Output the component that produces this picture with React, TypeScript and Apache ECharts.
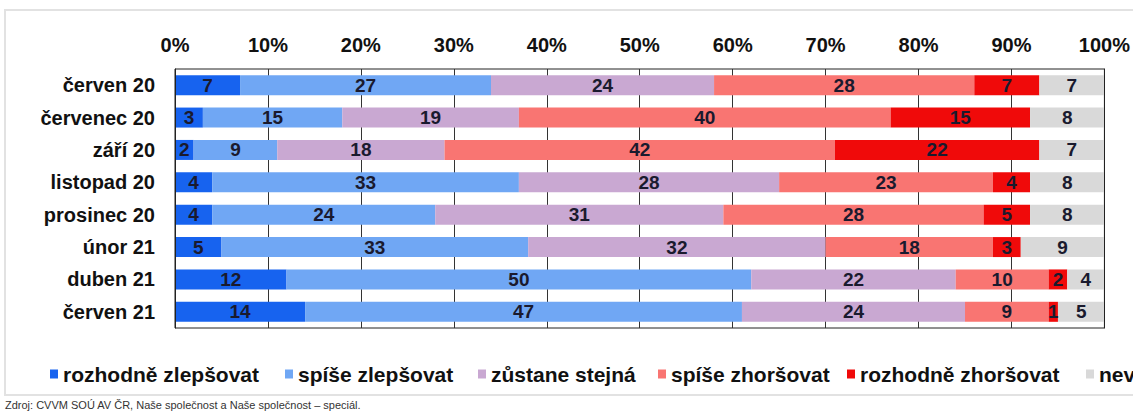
import React, { useEffect, useRef } from "react";
import * as echarts from "echarts";

const categories = [
  "červen 20",
  "červenec 20",
  "září 20",
  "listopad 20",
  "prosinec 20",
  "únor 21",
  "duben 21",
  "červen 21",
];

const seriesNames = [
  "rozhodně zlepšovat",
  "spíše zlepšovat",
  "zůstane stejná",
  "spíše zhoršovat",
  "rozhodně zhoršovat",
  "neví",
];

const rozhodneZlepsovat = [7, 3, 2, 4, 4, 5, 12, 14];
const spiseZlepsovat = [27, 15, 9, 33, 24, 33, 50, 47];
const zustaneStejna = [24, 19, 18, 28, 31, 32, 22, 24];
const spiseZhorsovat = [28, 40, 42, 23, 28, 18, 10, 9];
const rozhodneZhorsovat = [7, 15, 22, 4, 5, 3, 2, 1];
const nevi = [7, 8, 7, 8, 8, 9, 4, 5];

const seriesValues = [
  rozhodneZlepsovat,
  spiseZlepsovat,
  zustaneStejna,
  spiseZhorsovat,
  rozhodneZhorsovat,
  nevi,
];

const colors = ["#1763ef", "#70a7f4", "#c9a8d2", "#f97572", "#f00a0a", "#d9d9d9"];
const legendLefts = [45, 280, 473, 653, 842, 1081];

const FONT = "'Liberation Sans', Arial, sans-serif";

export default function App() {
  const ref = useRef<HTMLDivElement>(null);

  useEffect(() => {
    if (!ref.current) return;
    const chart = echarts.init(ref.current, null, { renderer: "svg" });
    const option: any = {
      animation: false,
      backgroundColor: "#ffffff",
      textStyle: { fontFamily: FONT },
      grid: {
        left: 175,
        right: 28,
        top: 69,
        bottom: 84,
        show: true,
        borderColor: "#222",
        borderWidth: 1,
        backgroundColor: "transparent",
      },
      legend: seriesNames.map((n, i) => ({
        data: [n],
        left: legendLefts[i],
        top: 357,
        itemWidth: 8,
        itemHeight: 9,
        icon: "rect",
        selectedMode: false,
        textStyle: {
          fontFamily: FONT,
          fontSize: 21,
          fontWeight: "bold",
          color: "#111",
          lineHeight: 24,
        },
      })),
      xAxis: {
        type: "value",
        position: "top",
        min: 0,
        max: 100,
        interval: 10,
        axisLine: { show: false },
        axisTick: { show: false },
        splitLine: { show: true, lineStyle: { color: "#333", width: 1 } },
        axisLabel: {
          formatter: "{value}%",
          fontFamily: FONT,
          fontSize: 20,
          fontWeight: "bold",
          color: "#111",
          margin: 14,
        },
      },
      yAxis: [
        {
          type: "category",
          data: categories,
          inverse: true,
          z: 5,
          axisLine: { show: true, lineStyle: { color: "#222", width: 1 } },
          axisTick: { show: false },
          axisLabel: {
            fontFamily: FONT,
            fontSize: 20,
            fontWeight: "bold",
            color: "#111",
            margin: 20,
          },
        },
        {
          type: "category",
          data: categories,
          inverse: true,
          position: "right",
          z: 5,
          axisLine: { show: true, lineStyle: { color: "#222", width: 1 } },
          axisTick: { show: false },
          axisLabel: { show: false },
        },
      ],
      series: seriesNames.map((n, i) => ({
        name: n,
        type: "bar",
        stack: "total",
        barWidth: 20,
        data: seriesValues[i],
        itemStyle: { color: colors[i] },
        label: {
          show: true,
          position: "inside",
          fontFamily: FONT,
          fontSize: 19,
          fontWeight: "bold",
          color: "#1a1a2e",
        },
      })),
      graphic: [
        {
          type: "rect",
          shape: { x: 5, y: 10, width: 1150, height: 385 },
          style: { fill: "none", stroke: "#e2e2e2", lineWidth: 2 },
          silent: true,
          z: -1,
        },
        {
          type: "text",
          x: 5,
          y: 405,
          style: {
            text: "Zdroj: CVVM SOÚ AV ČR, Naše společnost a Naše společnost – speciál.",
            fontFamily: FONT,
            fontSize: 11,
            fill: "#333",
            textVerticalAlign: "middle",
          },
          silent: true,
        },
      ],
    };
    chart.setOption(option);
    return () => chart.dispose();
  }, []);

  return (
    <div
      ref={ref}
      style={{ position: "absolute", left: 0, top: 0, width: 1133, height: 412 }}
    />
  );
}
